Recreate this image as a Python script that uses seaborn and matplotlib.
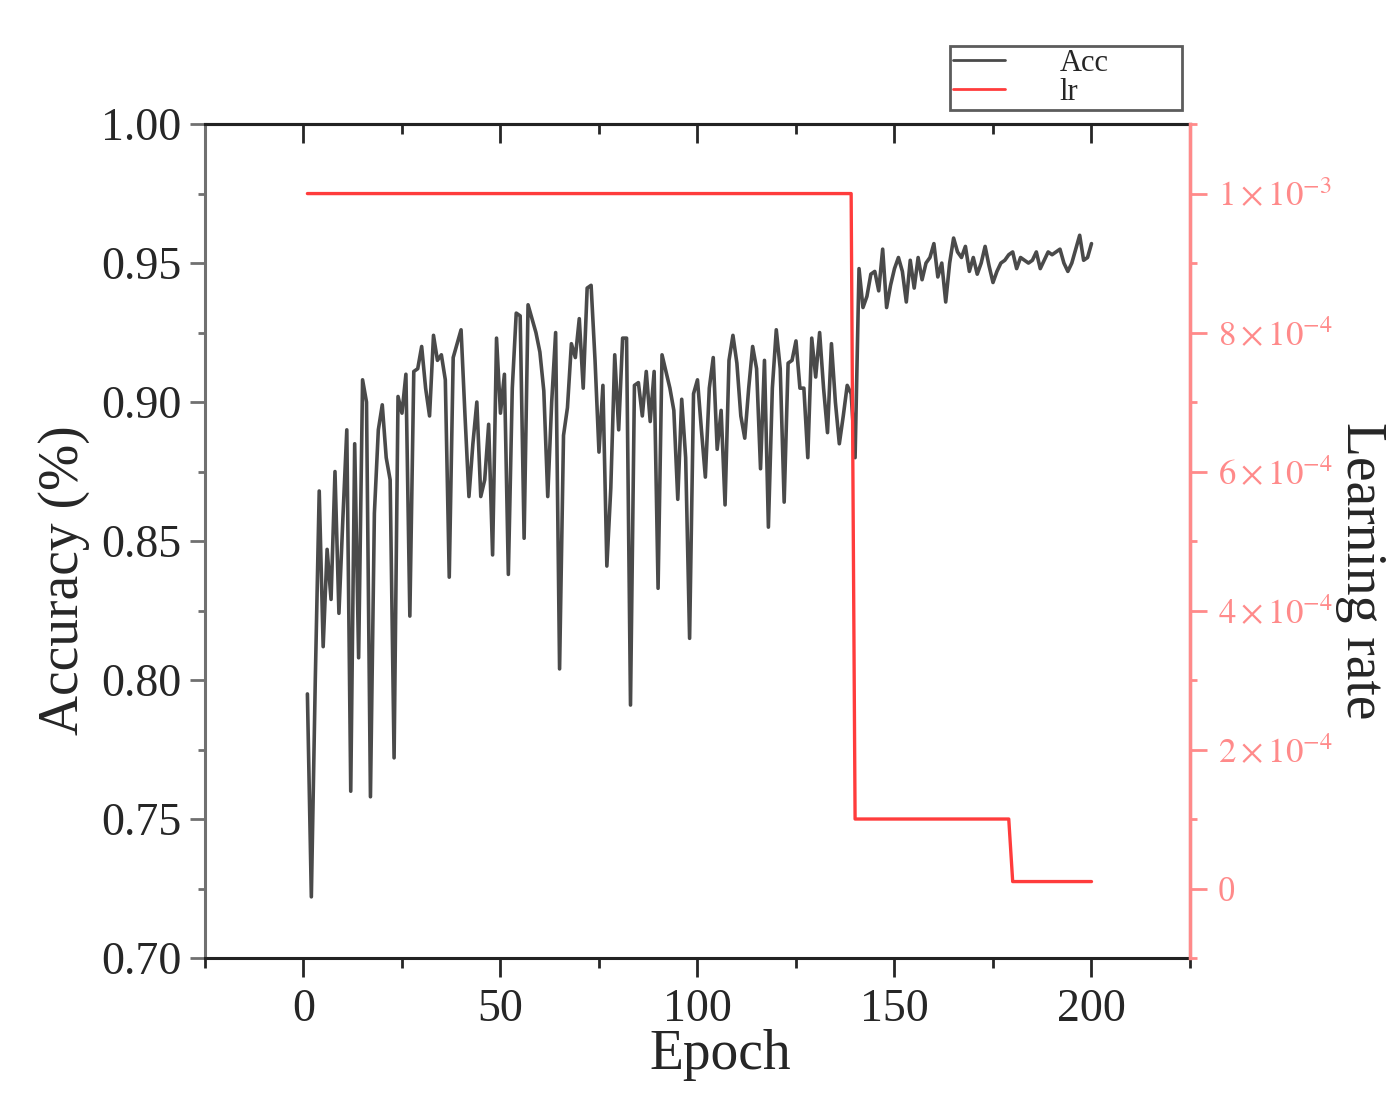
import numpy as np
import pandas as pd
import seaborn as sns
import matplotlib.pyplot as plt
from matplotlib.ticker import MultipleLocator

# accuracy per epoch
epochs = list(range(1, 201))
acc = [
    0.795, 0.722, 0.800, 0.868, 0.812, 0.847, 0.829, 0.875, 0.824, 0.858,
    0.890, 0.760, 0.885, 0.808, 0.908, 0.900, 0.758, 0.860, 0.890, 0.899,
    0.880, 0.872, 0.772, 0.902, 0.896, 0.910, 0.823, 0.911, 0.912, 0.920,
    0.905, 0.895, 0.924, 0.915, 0.917, 0.908, 0.837, 0.916, 0.921, 0.926,
    0.895, 0.866, 0.885, 0.900, 0.866, 0.872, 0.892, 0.845, 0.923, 0.896,
    0.910, 0.838, 0.905, 0.932, 0.931, 0.851, 0.935, 0.930, 0.925, 0.918,
    0.904, 0.866, 0.900, 0.925, 0.804, 0.888, 0.898, 0.921, 0.916, 0.930,
    0.905, 0.941, 0.942, 0.915, 0.882, 0.906, 0.841, 0.869, 0.917, 0.890,
    0.923, 0.923, 0.791, 0.906, 0.907, 0.895, 0.911, 0.893, 0.911, 0.833,
    0.917, 0.911, 0.905, 0.897, 0.865, 0.901, 0.880, 0.815, 0.903, 0.908,
    0.890, 0.873, 0.905, 0.916, 0.883, 0.897, 0.863, 0.915, 0.924, 0.914,
    0.895, 0.887, 0.905, 0.920, 0.912, 0.876, 0.915, 0.855, 0.905, 0.926,
    0.912, 0.864, 0.914, 0.915, 0.922, 0.905, 0.905, 0.880, 0.923, 0.909,
    0.925, 0.905, 0.889, 0.921, 0.900, 0.885, 0.895, 0.906, 0.903, 0.880,
    0.948, 0.934, 0.938, 0.946, 0.947, 0.940, 0.955, 0.934, 0.942, 0.948,
    0.952, 0.947, 0.936, 0.951, 0.941, 0.952, 0.944, 0.950, 0.952, 0.957,
    0.945, 0.950, 0.936, 0.950, 0.959, 0.954, 0.952, 0.956, 0.947, 0.952,
    0.946, 0.950, 0.956, 0.949, 0.943, 0.947, 0.950, 0.951, 0.953, 0.954,
    0.948, 0.952, 0.951, 0.950, 0.951, 0.954, 0.948, 0.951, 0.954, 0.953,
    0.954, 0.955, 0.950, 0.947, 0.950, 0.955, 0.960, 0.951, 0.952, 0.957,
]
# step schedule of the learning rate
lr = [1e-3] * 139 + [1e-4] * 40 + [1e-5] * 21

acc_ticks = [0.70, 0.75, 0.80, 0.85, 0.90, 0.95, 1.00]
lr_ticks = [0, 2e-4, 4e-4, 6e-4, 8e-4, 1e-3]
lr_labels = ['0', r'$2\times10^{-4}$', r'$4\times10^{-4}$', r'$6\times10^{-4}$',
             r'$8\times10^{-4}$', r'$1\times10^{-3}$']

df = pd.DataFrame({'Epoch': epochs, 'Acc': acc, 'lr': lr})

sns.set_style('ticks')
plt.rcParams['font.family'] = ['Liberation Serif', 'DejaVu Serif']
plt.rcParams['mathtext.fontset'] = 'stix'

acc_color = '#4a4a4a'
lr_color = '#ff3c3c'
lr_light = '#ff8a8a'

fig = plt.figure(figsize=(14, 10.98), dpi=100)
ax = fig.add_axes([0.1464, 0.1275, 0.7036, 0.7595])
ax2 = ax.twinx()

sns.lineplot(data=df, x='Epoch', y='Acc', ax=ax, color=acc_color, lw=2.6, label='Acc', legend=False)
sns.lineplot(data=df, x='Epoch', y='lr', ax=ax2, color=lr_color, lw=2.4, label='lr', legend=False)

ax.set_xlim(-25, 225)
ax.set_ylim(0.70, 1.00)
ax2.set_ylim(-1e-4, 1.1e-3)

ax.xaxis.set_major_locator(MultipleLocator(50))
ax.xaxis.set_minor_locator(MultipleLocator(25))
ax.set_yticks(acc_ticks, labels=[f'{v:.2f}' for v in acc_ticks])
ax.yaxis.set_minor_locator(MultipleLocator(0.025))
ax2.set_yticks(lr_ticks, labels=lr_labels)
ax2.yaxis.set_minor_locator(MultipleLocator(1e-4))

ax.tick_params(axis='x', which='major', direction='out', length=14, width=2, labelsize=33, pad=8)
ax.tick_params(axis='x', which='minor', direction='out', length=7, width=2)
ax.tick_params(axis='y', which='major', direction='out', length=11, width=2, labelsize=33,
               color='#707070', pad=6)
ax.tick_params(axis='y', which='minor', direction='out', length=5, width=2, color='#707070')
ax2.tick_params(axis='y', which='major', direction='out', length=12, width=2, labelsize=25,
                color=lr_light, labelcolor=lr_light, pad=8)
ax2.tick_params(axis='y', which='minor', direction='out', length=5, width=2, color=lr_light)

# inward ticks on the top edge
top = ax.secondary_xaxis('top')
top.xaxis.set_major_locator(MultipleLocator(50))
top.xaxis.set_minor_locator(MultipleLocator(25))
top.tick_params(which='major', direction='in', length=14, width=2, labeltop=False)
top.tick_params(which='minor', direction='in', length=7, width=2)
top.spines['top'].set_linewidth(2.2)
top.spines['top'].set_color('#222222')

for name, sp in ax.spines.items():
    sp.set_linewidth(2.2)
    sp.set_color('#222222')
ax.spines['left'].set_color('#707070')
ax2.spines['right'].set_color(lr_light)
ax2.spines['right'].set_linewidth(2.5)
for name in ['left', 'top', 'bottom']:
    ax2.spines[name].set_visible(False)

ax.set_xlabel('Epoch', fontsize=40)
ax.xaxis.set_label_coords(0.523, -0.085)
ax.set_ylabel('Accuracy (%)', fontsize=40)
ax.yaxis.set_label_coords(-0.117, 0.453)
ax2.set_ylabel('Learning rate', fontsize=40, rotation=-90)
ax2.yaxis.set_label_coords(1.2, 0.464)

h1, l1 = ax.get_legend_handles_labels()
h2, l2 = ax2.get_legend_handles_labels()
leg = ax2.legend(h1 + h2, l1 + l2, loc='lower left', mode='expand',
                 bbox_to_anchor=(0.756, 1.0168, 0.2355, 0.079),
                 fontsize=22, frameon=True, fancybox=False, borderaxespad=0,
                 handlelength=1.7, handletextpad=1.8, labelspacing=0.0,
                 borderpad=0.1)
leg.get_frame().set_edgecolor('#333333')
leg.get_frame().set_linewidth(2)
for line in leg.get_lines():
    line.set_linewidth(2)

fig.savefig('out.png', dpi=100, facecolor='white')
